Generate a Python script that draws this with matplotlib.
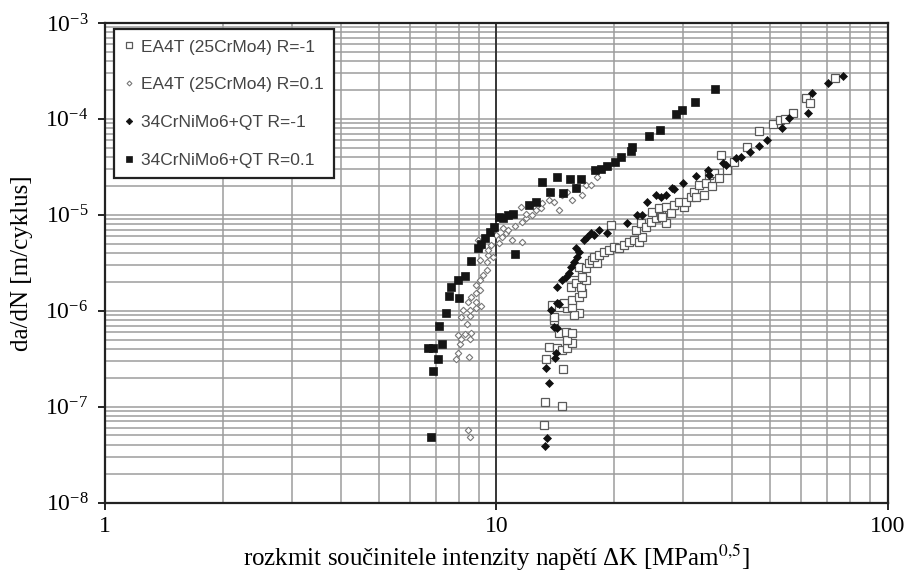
import numpy as np
import matplotlib
matplotlib.use("Agg")
import matplotlib.pyplot as plt
from matplotlib.ticker import LogLocator, FixedLocator, FixedFormatter, NullFormatter

plt.rcParams['font.family'] = ['Liberation Serif', 'DejaVu Serif']
plt.rcParams['mathtext.fontset'] = 'stix'

labels = ['EA4T (25CrMo4) R=-1', 'EA4T (25CrMo4) R=0.1',
          '34CrNiMo6+QT R=-1', '34CrNiMo6+QT R=0.1']

# EA4T (25CrMo4) R=-1  (hollow squares)
ea_m1_dk = [13.19, 13.27, 14.68, 14.76, 13.35, 13.59, 14.25, 14.68, 15.12, 15.57,
            15.12, 14.42, 15.03, 15.57, 14.0, 14.0, 16.23, 15.75, 13.84, 14.59,
            15.12, 15.57, 14.42, 14.85, 15.57, 16.23, 16.52, 15.48, 15.95, 16.42,
            16.91, 16.52, 15.75, 16.23, 16.91, 17.22, 17.52, 18.05, 17.73, 18.26,
            18.81, 19.37, 19.95, 20.55, 21.17, 21.81, 22.45, 23.12, 23.54, 22.72,
            23.40, 24.10, 24.83, 25.57, 26.34, 24.98, 26.03, 27.13, 27.94, 28.44,
            19.60, 27.13, 26.49, 30.17, 29.29, 30.53, 31.44, 32.0, 32.38, 33.95,
            32.96, 34.35, 35.59, 34.97, 36.0, 37.09, 37.53, 38.88, 40.53, 43.75,
            46.69, 50.71, 52.86, 54.44, 57.06, 61.61, 63.1, 73.13]
ea_m1_da = [6.49e-8, 1.13e-7, 1.02e-7, 2.49e-7, 3.16e-7, 4.22e-7, 4.12e-7, 3.92e-7, 4.12e-7, 4.64e-7,
            4.99e-7, 5.90e-7, 6.04e-7, 5.90e-7, 8.06e-7, 8.66e-7, 9.53e-7, 9.09e-7, 1.15e-6, 1.18e-6,
            1.07e-6, 1.10e-6, 1.10e-6, 1.21e-6, 1.30e-6, 1.40e-6, 1.54e-6, 1.78e-6, 1.96e-6, 1.78e-6,
            2.10e-6, 2.26e-6, 2.55e-6, 2.87e-6, 2.81e-6, 3.16e-6, 3.40e-6, 3.16e-6, 3.65e-6, 3.83e-6,
            4.12e-6, 4.32e-6, 4.64e-6, 4.53e-6, 4.87e-6, 5.24e-6, 5.49e-6, 5.24e-6, 5.90e-6, 6.98e-6,
            8.25e-6, 7.50e-6, 8.45e-6, 9.31e-6, 1.0e-5, 1.07e-5, 1.18e-5, 1.21e-5, 1.05e-5, 1.27e-5,
            7.87e-6, 8.25e-6, 9.53e-6, 1.21e-5, 1.37e-5, 1.37e-5, 1.54e-5, 1.74e-5, 1.54e-5, 1.62e-5,
            2.05e-5, 2.15e-5, 2.00e-5, 2.61e-5, 2.74e-5, 2.43e-5, 4.22e-5, 2.94e-5, 3.56e-5, 5.11e-5,
            7.50e-5, 8.87e-5, 9.76e-5, 1.0e-4, 1.15e-4, 1.66e-4, 1.47e-4, 2.67e-4]

# EA4T (25CrMo4) R=0.1  (hollow diamonds)
ea_01_dk = [8.48, 8.58, 7.99, 7.90, 8.53, 8.09, 8.13, 8.58, 7.99, 8.33,
            8.63, 8.43, 8.13, 8.58, 8.23, 8.58, 8.84, 8.48, 8.84, 9.15,
            8.63, 8.84, 9.10, 8.84, 9.10, 9.26, 9.43, 9.10, 9.43, 9.54,
            9.82, 9.15, 9.54, 8.99, 10.12, 10.30, 10.55, 10.73, 10.93, 11.18,
            11.59, 11.87, 12.29, 12.59, 12.96, 11.52, 11.87, 11.59, 13.04, 13.59,
            14.0, 14.42, 14.68, 15.12, 15.57, 15.95, 16.52, 16.91, 17.42, 17.73,
            18.05, 10.0, 10.42, 9.71]
ea_01_da = [5.75e-8, 4.87e-8, 3.65e-7, 3.16e-7, 3.32e-7, 4.53e-7, 5.11e-7, 5.11e-7, 5.62e-7, 5.75e-7,
            5.90e-7, 7.32e-7, 8.66e-7, 8.87e-7, 1.02e-6, 1.02e-6, 1.07e-6, 1.24e-6, 1.24e-6, 1.13e-6,
            1.40e-6, 1.54e-6, 1.66e-6, 1.87e-6, 2.10e-6, 2.37e-6, 2.67e-6, 3.40e-6, 3.24e-6, 3.83e-6,
            3.65e-6, 4.64e-6, 4.32e-6, 5.49e-6, 5.11e-6, 5.90e-6, 6.49e-6, 6.98e-6, 5.49e-6, 7.68e-6,
            8.45e-6, 9.31e-6, 1.0e-5, 1.13e-5, 1.18e-5, 1.21e-5, 1.02e-5, 5.24e-6, 1.33e-5, 1.43e-5,
            1.37e-5, 1.13e-5, 1.62e-5, 1.74e-5, 1.43e-5, 1.96e-5, 1.62e-5, 2.05e-5, 2.05e-5, 2.94e-5,
            2.49e-5, 6.19e-6, 7.32e-6, 4.87e-6]

# 34CrNiMo6+QT R=-1  (filled diamonds)
cr_m1_dk = [13.27, 13.44, 13.59, 13.35, 14.08, 14.17, 14.0, 14.25, 13.75, 14.42,
            14.25, 14.25, 14.68, 15.03, 15.30, 15.48, 15.75, 16.04, 16.23, 15.95,
            16.71, 17.01, 17.42, 17.73, 18.26, 19.14, 21.54, 22.86, 23.54, 24.25,
            25.57, 26.34, 27.13, 28.10, 28.44, 29.99, 32.38, 34.75, 34.97, 37.98,
            38.66, 41.0, 42.22, 44.53, 46.69, 48.95, 53.48, 55.74, 62.35, 63.83,
            70.18, 76.67]
cr_m1_da = [3.92e-8, 4.75e-8, 1.78e-7, 2.55e-7, 3.24e-7, 3.65e-7, 6.81e-7, 6.65e-7, 1.02e-6, 1.18e-6,
            1.21e-6, 1.78e-6, 2.10e-6, 2.26e-6, 2.49e-6, 2.87e-6, 3.24e-6, 3.65e-6, 4.12e-6, 4.53e-6,
            5.49e-6, 5.90e-6, 6.49e-6, 6.19e-6, 6.98e-6, 6.49e-6, 8.25e-6, 1.0e-5, 1.0e-5, 1.37e-5,
            1.62e-5, 1.54e-5, 1.62e-5, 1.91e-5, 1.87e-5, 2.15e-5, 2.55e-5, 2.94e-5, 2.61e-5, 3.48e-5,
            3.32e-5, 3.92e-5, 4.02e-5, 4.53e-5, 5.24e-5, 6.04e-5, 8.06e-5, 1.02e-4, 1.15e-4, 1.87e-4,
            2.37e-4, 2.80e-4]

# 34CrNiMo6+QT R=0.1  (filled squares)
cr_01_dk = [6.81, 6.90, 7.10, 6.69, 6.90, 7.27, 7.14, 7.44, 7.58, 8.04,
            7.67, 7.99, 8.33, 8.63, 8.99, 9.15, 9.32, 9.65, 9.88, 10.12,
            10.42, 10.73, 11.05, 11.18, 12.08, 12.59, 13.04, 13.67, 14.25, 14.76,
            15.39, 15.95, 16.42, 17.84, 18.48, 19.14, 20.07, 20.79, 22.06, 22.19,
            24.53, 26.18, 28.77, 29.81, 32.20, 36.22]
cr_01_da = [4.87e-8, 2.37e-7, 3.16e-7, 4.12e-7, 4.12e-7, 4.53e-7, 6.98e-7, 9.53e-7, 1.43e-6, 1.37e-6,
            1.78e-6, 2.10e-6, 2.32e-6, 3.32e-6, 4.53e-6, 4.99e-6, 5.76e-6, 6.65e-6, 7.50e-6, 9.53e-6,
            9.31e-6, 1.0e-5, 1.02e-5, 3.92e-6, 1.27e-5, 1.37e-5, 2.21e-5, 1.74e-5, 2.49e-5, 1.70e-5,
            2.37e-5, 1.91e-5, 2.37e-5, 2.94e-5, 3.01e-5, 3.24e-5, 3.56e-5, 4.02e-5, 4.64e-5, 5.11e-5,
            6.65e-5, 7.68e-5, 1.13e-4, 1.24e-4, 1.50e-4, 2.05e-4]

fig = plt.figure(figsize=(9.11, 5.76), dpi=100)
ax = fig.add_axes([105 / 911, 1 - 502.5 / 576, (888 - 105) / 911, (502.5 - 23) / 576])

ax.set_xscale('log')
ax.set_yscale('log')
ax.set_xlim(1, 100)
ax.set_ylim(1e-8, 1e-3)

ax.grid(True, which='both', color='#9c9c9c', lw=1.1)
ax.axvline(10, color='#222222', lw=1.2, zorder=1)
ax.set_axisbelow(True)

ax.plot(ea_m1_dk, ea_m1_da, ls='none', marker='s', ms=5.4, mfc='white', mec='#5a5a5a', mew=0.9,
        label=labels[0], zorder=3)
ax.plot(ea_01_dk, ea_01_da, ls='none', marker='D', ms=3.3, mfc='white', mec='#777777', mew=0.8,
        label=labels[1], zorder=4)
ax.plot(cr_m1_dk, cr_m1_da, ls='none', marker='D', ms=4.4, mfc='#111111', mec='#111111', mew=0.5,
        label=labels[2], zorder=5)
ax.plot(cr_01_dk, cr_01_da, ls='none', marker='s', ms=6.2, mfc='#151515', mec='#151515', mew=0.5,
        label=labels[3], zorder=6)

ax.xaxis.set_major_locator(FixedLocator([1, 10, 100]))
ax.xaxis.set_major_formatter(FixedFormatter(['1', '10', '100']))
ax.xaxis.set_minor_locator(LogLocator(base=10, subs=np.arange(2, 10)))
ax.xaxis.set_minor_formatter(NullFormatter())
ax.yaxis.set_major_locator(LogLocator(base=10, numticks=10))
ax.yaxis.set_minor_locator(LogLocator(base=10, subs=np.arange(2, 10), numticks=20))
ax.yaxis.set_minor_formatter(NullFormatter())

ax.tick_params(which='major', direction='out', length=5, width=1.2, labelsize=17, colors='black')
ax.tick_params(axis='y', pad=7)
ax.tick_params(axis='x', pad=5)
ax.tick_params(which='minor', length=0)
for s in ax.spines.values():
    s.set_linewidth(1.6)
    s.set_color('#222222')

ax.set_xlabel('rozkmit součinitele intenzity napětí ΔK [MPam$^{0{,}5}$]', fontsize=18, labelpad=4)
ax.set_ylabel('da/dN [m/cyklus]', fontsize=18, labelpad=9)

leg = ax.legend(loc='upper left', bbox_to_anchor=(9 / 783, 1 - 6 / 479.5),
                prop={'family': 'Liberation Sans', 'size': 12.5},
                frameon=True, fancybox=False, edgecolor='#222222', framealpha=1,
                labelspacing=1.3, handlelength=0.5, handletextpad=0.45, borderpad=0.6,
                borderaxespad=0, markerscale=0.75, numpoints=1)
leg.get_frame().set_linewidth(1.6)
for t in leg.get_texts():
    t.set_color('#444444')

fig.savefig('out.png', dpi=100)
